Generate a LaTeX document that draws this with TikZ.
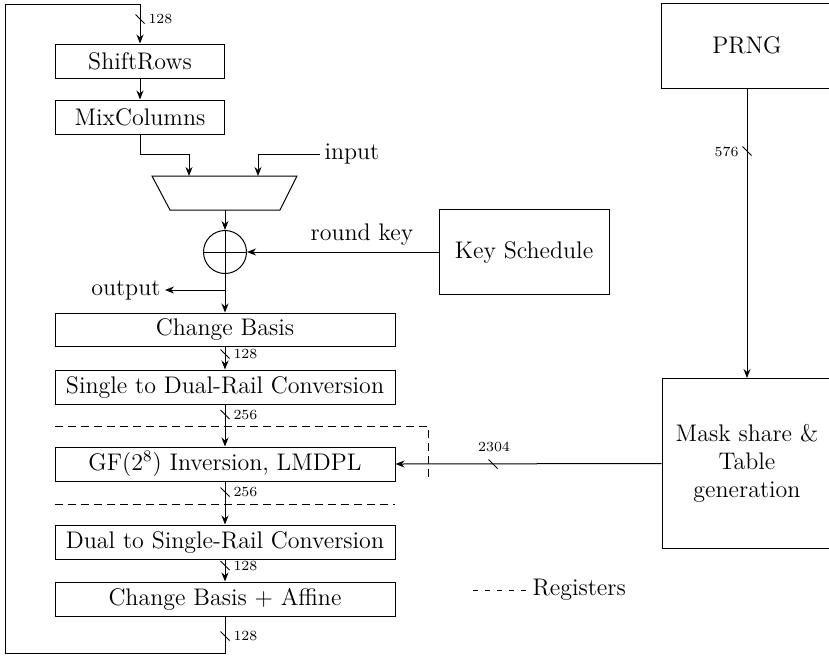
\documentclass[tikz,border=0pt]{standalone}
\usetikzlibrary{arrows.meta,calc}
\begin{document}
\begin{tikzpicture}[x=0.5pt,y=-0.5pt,font=\large,line width=0.5pt,
  >={Stealth[length=4.5pt,width=3.5pt]},
  blk/.style={draw,inner sep=0pt,minimum height=17pt,align=center},
  smallbox/.style={blk,minimum width=84.5pt},
  widebox/.style={blk,minimum width=170pt},
  bigbox/.style={draw,inner sep=0pt,align=center},
  bus/.style={font=\scriptsize,inner sep=1pt},
  regline/.style={dash pattern=on 4pt off 2.5pt},
  legline/.style={dash pattern=on 2.5pt off 3.5pt}]
\useasboundingbox (0,0) rectangle (829,655);

% left chain
\node[smallbox] (sr) at (140,61) {ShiftRows};
\node[smallbox] (mc) at (140,117) {MixColumns};
\coordinate (muxin1) at (189,176);
\coordinate (muxin2) at (258,176);
\coordinate (muxout) at (225,210);
\draw (152,176) -- (297,176) -- (280,210) -- (170,210) -- cycle;
\node[draw,circle,minimum size=21.5pt,inner sep=0pt] (xo) at (225,252) {};
\draw (xo.north) -- (xo.south) (xo.west) -- (xo.east);
\node[widebox,minimum height=16.5pt] (cb) at (225,329.5) {Change Basis};
\node[widebox] (sd) at (225,387) {Single to Dual-Rail Conversion};
\node[widebox] (gf) at (225,464) {GF($2^8$) Inversion, LMDPL};
\node[widebox] (ds) at (225,542) {Dual to Single-Rail Conversion};
\node[widebox] (cba) at (225,599) {Change Basis + Affine};

% right blocks
\node[bigbox,minimum width=85pt,minimum height=42.5pt] (ks) at (524,252) {Key Schedule};
\node[bigbox,minimum width=86pt,minimum height=42.5pt] (prng) at (747,45.5) {PRNG};
\node[bigbox,minimum width=85pt,minimum height=85pt] (mask) at (747,463.5) {Mask share \&\\Table\\generation};

% loop
\coordinate (loopbl) at (5,653);
\coordinate (looptr) at (140,4);
\draw[->] (cba.south) |- (loopbl) |- (looptr) -- (sr.north);
\draw (135.5,14.5) -- ++(9,9);
\node[bus,anchor=west] at (146,19) {128};
\draw (220.5,631.5) -- ++(9,9);
\node[bus,anchor=west] at (231,636) {128};

\draw[->] (sr.south) -- (mc.north);
\draw[->] (mc.south) |- ($(muxin1)+(0,-22)$) -- (muxin1);
\coordinate (inp) at (320,154);
\draw[->] (inp) -| (muxin2);
\node[anchor=west,inner sep=2pt] at (inp) {input};
\draw[->] (muxout) -- (xo.north);
\draw[->] (ks.west) -- node[above,pos=0.4,inner sep=3pt] {round key} (xo.east);
\draw[->] (xo.south) -- (cb.north);
\coordinate (ob) at (225,290);
\draw[->] (ob) -- ++(-60,0) node[left,inner sep=2pt] {output};

\draw[->] (cb.south) -- (sd.north);
\draw (220.5,349.5) -- ++(9,9);
\node[bus,anchor=west] at (231,354) {128};
\draw[->] (sd.south) -- (gf.north);
\draw (220.5,410) -- ++(9,9);
\node[bus,anchor=west] at (231,414.5) {256};
\draw[->] (gf.south) -- (ds.north);
\draw (220.5,487.5) -- ++(9,9);
\node[bus,anchor=west] at (231,492) {256};
\draw[->] (ds.south) -- (cba.north);
\draw (220.5,561) -- ++(9,9);
\node[bus,anchor=west] at (231,565.5) {128};

% mask / prng connections
\draw[->] (mask.west) -- (gf.east);
\draw (488.5,459.5) -- ++(9,9);
\node[bus,anchor=south] at (494,454) {2304};
\draw[->] (prng.south) -- (mask.north);
\draw (742.5,146.5) -- ++(9,9);
\node[bus,anchor=east] at (741,152) {576};

% registers
\draw[regline] (55,426) -- (428,426) -- (428,477);
\draw[regline] (55,504) -- (395,504);
\coordinate (lg) at (473,590);
\draw[legline] (lg) -- ++(53,0) node[right,inner sep=3pt] {Registers};
\end{tikzpicture}
\end{document}
